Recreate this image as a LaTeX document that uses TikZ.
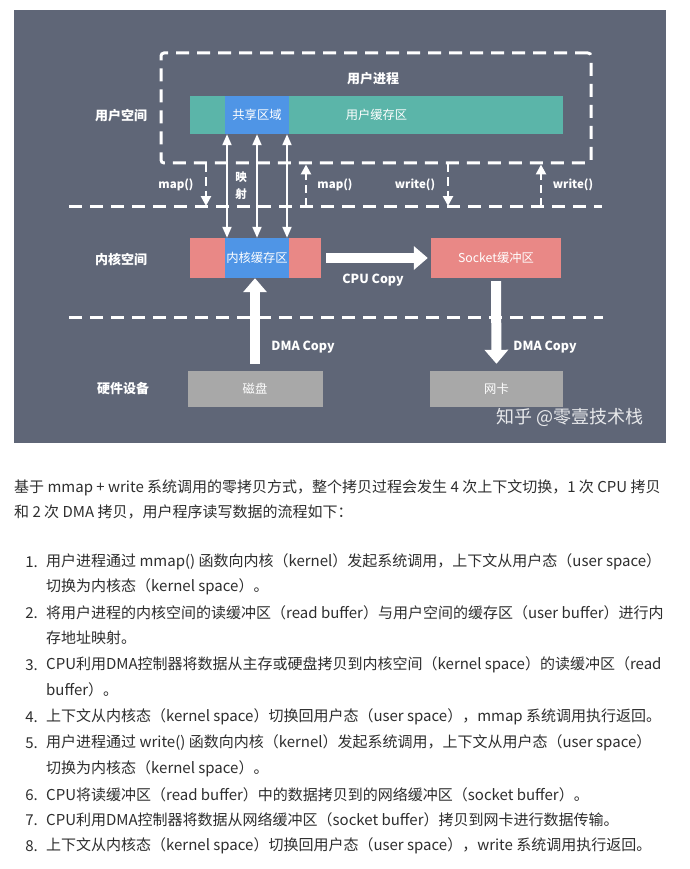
\documentclass[tikz,border=0pt]{standalone}
\usepackage{fontspec}
\setmainfont{Noto Sans CJK SC}
\usetikzlibrary{arrows.meta}

\definecolor{panelgray}{HTML}{5F6677}
\definecolor{tealbuf}{HTML}{5BB5A9}
\definecolor{bluebuf}{HTML}{4F95E6}
\definecolor{redbuf}{HTML}{E98886}
\definecolor{hwgray}{HTML}{A8A8A8}
\definecolor{bodytext}{HTML}{2E2E2E}

\tikzset{
  lbl/.style={text=white, inner sep=0pt, font=\bfseries\fontsize{11.5}{17}\selectfont},
  rowlbl/.style={text=white, inner sep=0pt, font=\bfseries\fontsize{13}{17}\selectfont},
  buf/.style={minimum height=38pt, inner sep=0pt, text=white, font=\fontsize{12.3}{14}\selectfont},
  sepline/.style={white, line width=3pt, dash pattern=on 13pt off 8pt},
  callarrow/.style={white, line width=2.5pt, dash pattern=on 8pt off 5pt, -{Triangle[width=10pt,length=10pt]}},
  maparrow/.style={white, line width=2pt, {Triangle[width=9pt,length=11pt]}-{Triangle[width=9pt,length=11pt]}},
  copyarrow/.style={white, line width=10pt, -{Triangle[width=23pt,length=14pt]}},
  bodyline/.style={anchor=west, inner sep=0pt, text=bodytext, font=\fontsize{15}{17}\selectfont},
  itemno/.style={anchor=east, inner sep=0pt, text=bodytext, font=\fontsize{15}{17}\selectfont},
}

\begin{document}
\begin{tikzpicture}[x=1pt, y=-1pt]

        % page and panel
        \useasboundingbox (0,0) rectangle (689,869);
        \fill[white] (0,0) rectangle (689,869);
        \fill[panelgray] (14,10) rectangle (666,443);

        % user space
        \node[sepline, draw, rounded corners=3pt, minimum width=430pt, minimum height=110pt] (userproc) at (376,108) {};
        \node[rowlbl] (proclbl) at (373,79) {用户进程};
        \node[buf, fill=tealbuf, minimum width=373pt] (userbuf) at (376.5,115) {用户缓存区};
        \node[buf, fill=bluebuf, minimum width=64pt] (shared) at (257,115) {共享区域};

        % kernel space
        \node[buf, fill=redbuf, minimum width=131pt, minimum height=40pt] (kernbuf) at (255.5,258) {};
        \node[buf, fill=bluebuf, minimum width=64pt, minimum height=40pt] (kcache) at (257,258) {内核缓存区};
        \node[buf, fill=redbuf, minimum width=130pt, minimum height=40pt] (sockbuf) at (496,258) {Socket缓冲区};

        % hardware
        \node[buf, fill=hwgray, minimum width=135pt, minimum height=36pt] (disk) at (255,389) {磁盘};
        \node[buf, fill=hwgray, minimum width=133pt, minimum height=36pt] (nic) at (496.5,389) {网卡};

        % row labels
        \node[rowlbl] (userlbl) at (121,116) {用户空间};
        \node[rowlbl] (kernlbl) at (121,259) {内核空间};
        \node[rowlbl] (hwlbl) at (123,389) {硬件设备};

        % separators
        \coordinate (u0) at (69,206);
        \coordinate (u1) at (602,206);
        \coordinate (k0) at (69,317);
        \coordinate (k1) at (603,317);
        \draw[sepline] (u0) -- (u1);
        \draw[sepline] (k0) -- (k1);

        % system calls
        \coordinate (mapdn) at (206,206);
        \coordinate (mapup) at (306,206);
        \coordinate (writedn) at (448,206);
        \coordinate (writeup) at (541,206);
        \draw[callarrow] (mapdn |- userproc.south) -- (mapdn);
        \draw[callarrow] (mapup) -- (mapup |- userproc.south);
        \draw[callarrow] (writedn |- userproc.south) -- (writedn);
        \draw[callarrow] (writeup) -- (writeup |- userproc.south);
        \node[lbl] (mapdnlbl) at (176,185) {map()};
        \node[lbl] (mapuplbl) at (335,185) {map()};
        \node[lbl] (writednlbl) at (415,185) {write()};
        \node[lbl] (writeuplbl) at (573,185) {write()};

        % mapping
        \draw[maparrow] ([xshift=-30pt]shared.south) -- ([xshift=-30pt]kcache.north);
        \draw[maparrow] (shared.south) -- (kcache.north);
        \draw[maparrow] ([xshift=30pt]shared.south) -- ([xshift=30pt]kcache.north);
        \node[lbl, align=center] (maplbl) at (241,186) {映\\射};

        % copies
        \draw[copyarrow, shorten <=7pt] (disk.north) -- (disk.north |- kcache.south);
        \draw[copyarrow, shorten <=5pt, shorten >=3pt] (kernbuf.east) -- (sockbuf.west);
        \draw[copyarrow, shorten <=3pt, shorten >=7pt] (sockbuf.south) -- (nic.north);
        \node[lbl, font=\bfseries\fontsize{12.5}{15}\selectfont] (cpulbl) at (373,280) {CPU Copy};
        \node[lbl, font=\bfseries\fontsize{12.5}{15}\selectfont] (dmalbl1) at (303,347) {DMA Copy};
        \node[lbl, font=\bfseries\fontsize{12.5}{15}\selectfont] (dmalbl2) at (545,347) {DMA Copy};

        % watermark
        \node[text=white, opacity=0.85, inner sep=0pt, font=\fontsize{18}{20}\selectfont] (mark) at (570,417) {知乎 @零壹技术栈};

        % text below
        \node[bodyline] (p1) at (14,488) {基于 mmap + write 系统调用的零拷贝方式，整个拷贝过程会发生 4 次上下文切换，1 次 CPU 拷贝};
        \node[bodyline] (p2) at (14,512) {和 2 次 DMA 拷贝，用户程序读写数据的流程如下：};

        \node[itemno] (n1) at (38,562) {1.};
        \node[bodyline] (t1a) at (46,562) {用户进程通过 mmap() 函数向内核（kernel）发起系统调用，上下文从用户态（user space）};
        \node[bodyline] (t1b) at (46,587) {切换为内核态（kernel space）。};
        \node[itemno] (n2) at (38,613) {2.};
        \node[bodyline] (t2a) at (46,613) {将用户进程的内核空间的读缓冲区（read buffer）与用户空间的缓存区（user buffer）进行内};
        \node[bodyline] (t2b) at (46,638) {存地址映射。};
        \node[itemno] (n3) at (38,665) {3.};
        \node[bodyline] (t3a) at (46,665) {CPU利用DMA控制器将数据从主存或硬盘拷贝到内核空间（kernel space）的读缓冲区（read};
        \node[bodyline] (t3b) at (46,690) {buffer）。};
        \node[itemno] (n4) at (38,717) {4.};
        \node[bodyline] (t4) at (46,717) {上下文从内核态（kernel space）切换回用户态（user space），mmap 系统调用执行返回。};
        \node[itemno] (n5) at (38,743) {5.};
        \node[bodyline] (t5a) at (46,743) {用户进程通过 write() 函数向内核（kernel）发起系统调用，上下文从用户态（user space）};
        \node[bodyline] (t5b) at (46,769) {切换为内核态（kernel space）。};
        \node[itemno] (n6) at (38,795) {6.};
        \node[bodyline] (t6) at (46,795) {CPU将读缓冲区（read buffer）中的数据拷贝到的网络缓冲区（socket buffer）。};
        \node[itemno] (n7) at (38,820) {7.};
        \node[bodyline] (t7) at (46,820) {CPU利用DMA控制器将数据从网络缓冲区（socket buffer）拷贝到网卡进行数据传输。};
        \node[itemno] (n8) at (38,846) {8.};
        \node[bodyline] (t8) at (46,846) {上下文从内核态（kernel space）切换回用户态（user space），write 系统调用执行返回。};

\end{tikzpicture}
\end{document}
